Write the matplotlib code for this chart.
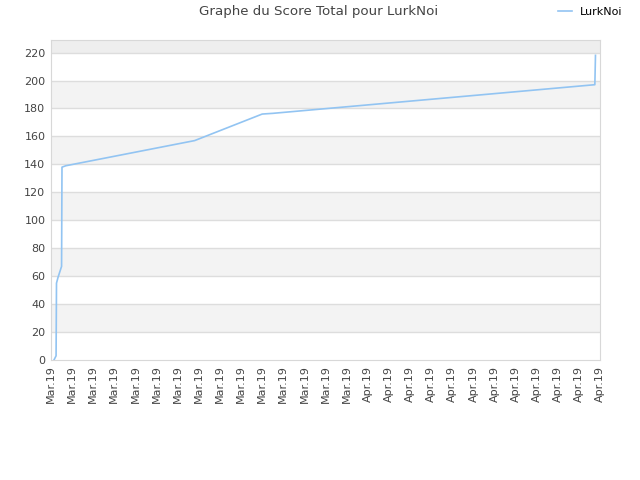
import matplotlib
matplotlib.use("Agg")
import matplotlib.pyplot as plt

# x in tick units (one tick per day-ish label), y = total score
x_vals = [0.14, 0.24, 0.26, 0.33, 0.50, 0.52, 0.70, 6.80, 10.0, 10.5, 25.75, 25.78]
scores = [0, 3, 55, 59, 67, 138, 139, 157, 176, 176.5, 197, 218]

tick_labels = ["Mar.19"] * 15 + ["Apr.19"] * 12
y_ticks = list(range(0, 221, 20))

fig = plt.figure(figsize=(6.4, 4.8), dpi=100)
ax = fig.add_axes([0.0797, 0.25, 0.858, 0.6667])

ymax = 229
# alternating bands
for lo in range(20, 221, 40):
    hi = min(lo + 20, ymax)
    col = "#eeeeee" if lo == 220 else "#f3f3f3"
    ax.axhspan(lo, hi, color=col, zorder=0, lw=0)
for yt in y_ticks[1:]:
    ax.axhline(yt, color="#dddddd", lw=1, zorder=1)

ax.plot(x_vals, scores, color="#92c4f2", lw=1.2, zorder=3, label="LurkNoi")

ax.set_xlim(0, len(tick_labels) - 1)
ax.set_ylim(0, ymax)
ax.set_xticks(range(len(tick_labels)))
ax.set_xticklabels(tick_labels, rotation=90, fontsize=8, color="#444444")
ax.set_yticks(y_ticks)
ax.set_yticklabels([str(v) for v in y_ticks], fontsize=8, color="#444444")
ax.tick_params(length=0, pad=4)
for s in ax.spines.values():
    s.set_color("#d8d8d8")

fig.text(0.497, 0.975, "Graphe du Score Total pour LurkNoi", ha="center", va="center",
         fontsize=9.6, color="#444444")
fig.legend(loc="center", bbox_to_anchor=(0.922, 0.975), frameon=False, fontsize=8,
           handlelength=1.2, handletextpad=0.7)

fig.savefig("out.png", dpi=100)
